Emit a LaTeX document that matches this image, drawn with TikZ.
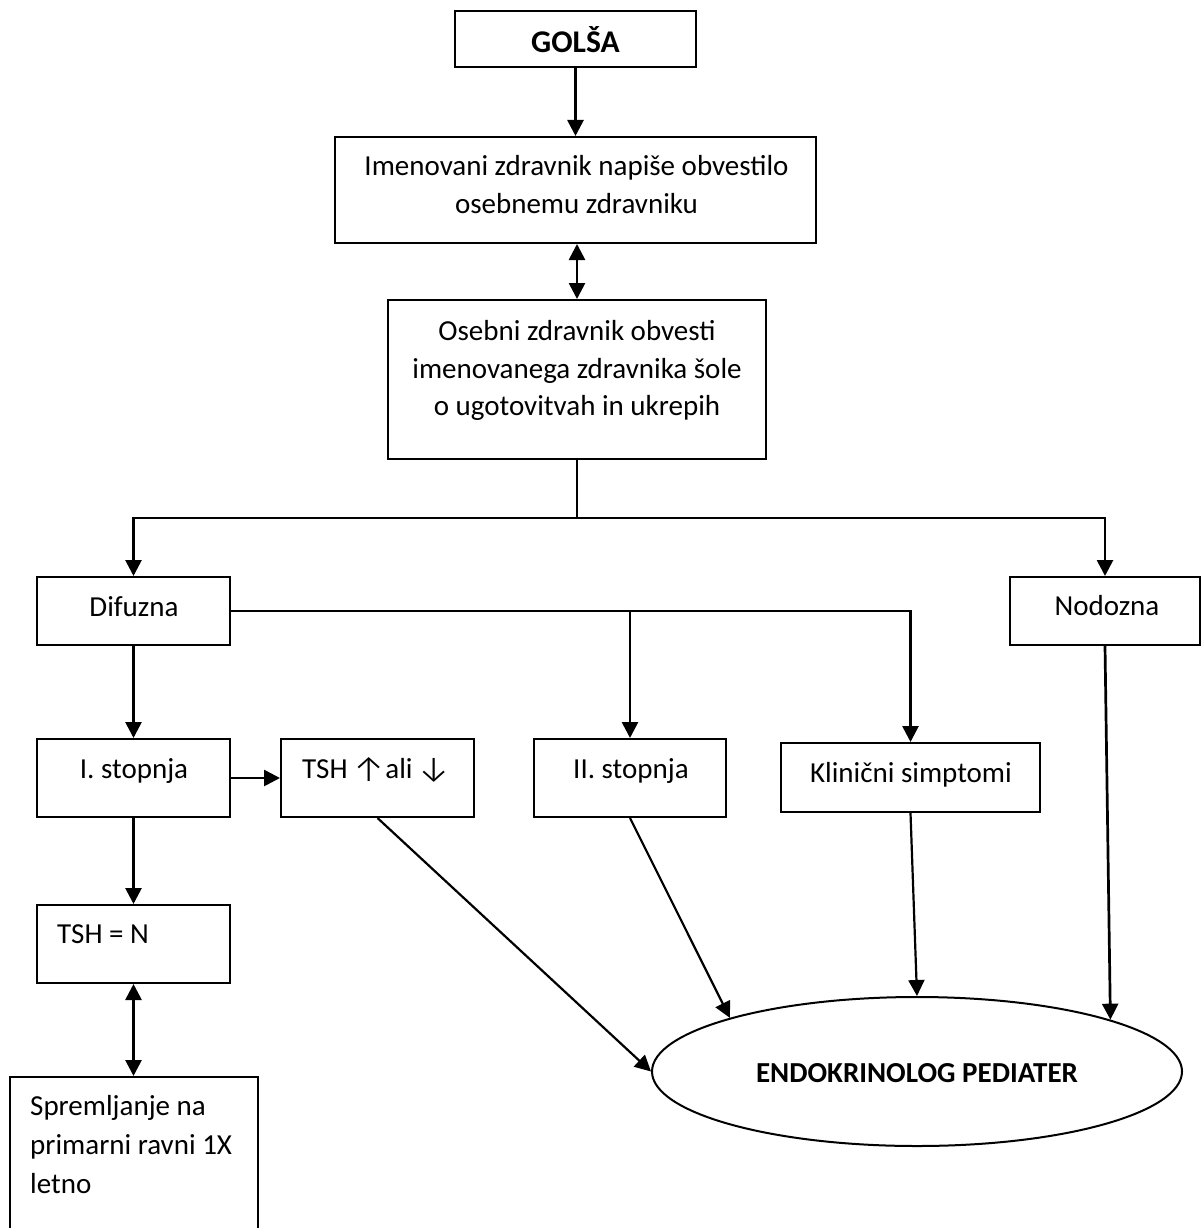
\documentclass[tikz,border=0pt]{standalone}
\usepackage{fontspec}
\setmainfont{Carlito}
\newfontfamily\arrfont{Fira Sans Light}
\newcommand{\arrglyph}[1]{\raisebox{-3pt}{\arrfont\fontsize{37}{38}\selectfont #1}}
\usetikzlibrary{arrows.meta,shapes.geometric}
\begin{document}
\begin{tikzpicture}[x=1pt,y=-1pt,
  box/.style 2 args={draw,line width=2pt,inner sep=0pt,minimum width=#1pt,minimum height=#2pt},
  txt/.style={inner sep=0pt,font=\fontsize{29}{38}\selectfont},
  btxt/.style={inner sep=0pt,font=\fontsize{29}{38}\selectfont\bfseries},
  tip/.tip={Triangle[length=16pt,width=16pt]},
  conn/.style={line width=2.7pt,-tip},
  dconn/.style={line width=2.7pt,tip-tip},
  diag/.style={line width=2.2pt,-tip},
  plain/.style={line width=2.7pt}]
\useasboundingbox (0,0) rectangle (1201,1228);
\clip (0,0) rectangle (1201,1228);

% boxes
\node[box={241}{56}] (golsa) at (575.5,39) {};
\node[box={481}{106}] (imen) at (575.5,190) {};
\node[box={378}{159}] (oseb) at (577,379.5) {};
\node[box={193}{68}] (difuzna) at (133.5,611) {};
\node[box={190}{68}] (nodozna) at (1105,611) {};
\node[box={193}{78}] (ist) at (133.5,778) {};
\node[box={193}{78}] (tsh) at (377.5,778) {};
\node[box={192}{78}] (ii) at (630,778) {};
\node[box={259}{69}] (klin) at (910.5,777.5) {};
\node[box={193}{78}] (tshn) at (133.5,944) {};
\node[box={248}{190}] (sprem) at (134,1172) {};
\node[draw,ellipse,line width=2pt,inner sep=0pt,minimum width=530pt,minimum height=149pt] (endo) at (917,1071.5) {};

% texts
\node[btxt,anchor=base,font=\fontsize{31.6}{38}\selectfont\bfseries] (tgolsa) at (575.5,53) {GOLŠA};
\node[txt,anchor=base] (timen1) at (576.5,175) {Imenovani zdravnik napiše obvestilo};
\node[txt,anchor=base] (timen2) at (576.5,213) {osebnemu zdravniku};
\node[txt,anchor=base] (toseb1) at (577,340) {Osebni zdravnik obvesti};
\node[txt,anchor=base] (toseb2) at (577,378) {imenovanega zdravnika šole};
\node[txt,anchor=base] (toseb3) at (577,415) {o ugotovitvah in ukrepih};
\node[txt,anchor=base] (tdif) at (134,616) {Difuzna};
\node[txt,anchor=base] (tnod) at (1107,615) {Nodozna};
\node[txt,anchor=base] (tist) at (134,778) {I. stopnja};
\node[txt,anchor=base west] (ttsh) at (302,778) {TSH \kern-2pt\arrglyph{↑}ali \kern-2pt\arrglyph{↓}};
\node[txt,anchor=base] (tii) at (631,778) {II. stopnja};
\node[txt,anchor=base] (tklin) at (911,782) {Klinični simptomi};
\node[txt,anchor=base west] (ttshn) at (57,943) {TSH = N};
\node[txt,anchor=base west] (tsp1) at (30,1115) {Spremljanje na};
\node[txt,anchor=base west] (tsp2) at (30,1154) {primarni ravni 1X};
\node[txt,anchor=base west] (tsp3) at (30,1193) {letno};
\node[btxt,anchor=base] (tendo) at (917,1082) {ENDOKRINOLOG PEDIATER};

% connectors
\coordinate (j1) at (577,518);
\coordinate (b2) at (630,611);
\draw[conn] (golsa) -- (imen);
\draw[dconn] (oseb.north |- imen.south) -- (oseb.north);
\draw[plain] (oseb.south) -- (j1);
\draw[conn] (j1) -| (difuzna.north);
\draw[conn] (j1) -| (nodozna.north);
\draw[conn] (difuzna.east) -| (klin.north);
\draw[conn] (b2) -- (ii.north);
\draw[conn] (difuzna) -- (ist);
\draw[conn] (ist) -- (tsh);
\draw[conn] (ist) -- (tshn);
\draw[dconn] (tshn) -- (sprem.north -| tshn.south);
\draw[diag] (tsh.south) -- (endo.west);
\draw[diag] (ii.south) -- (endo.164.6);
\draw[diag] (klin.south) -- (endo.north);
\draw[conn] (nodozna.south) -- (endo.15.6);
\end{tikzpicture}
\end{document}
